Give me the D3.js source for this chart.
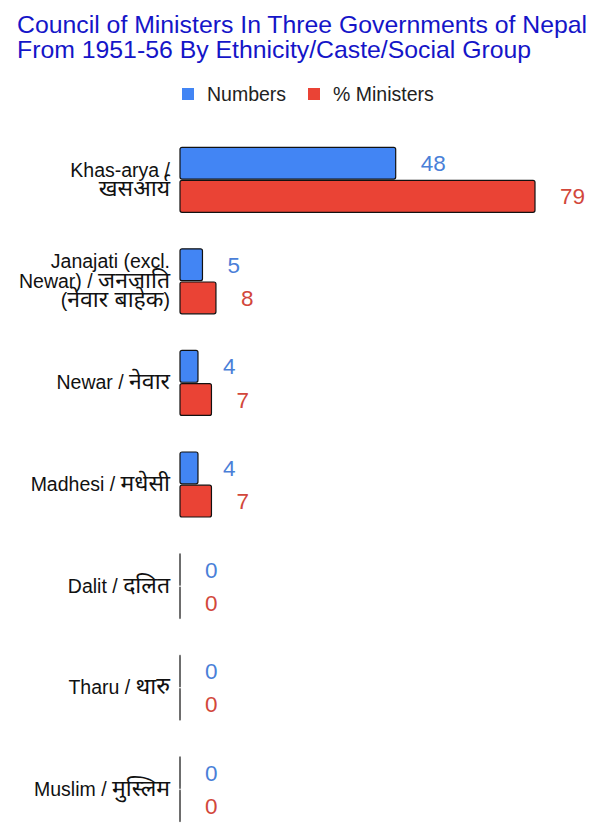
<!DOCTYPE html>
<html><head><meta charset="utf-8">
<script src="https://cdn.jsdelivr.net/npm/d3@7"></script>
<style>
body{margin:0;background:#fff;}
text{font-family:"Liberation Sans",Arial,"Noto Sans","Noto Sans Devanagari",sans-serif;}
</style></head>
<body><svg id="chart" width="607" height="840"></svg>
<script>
const categories = [
  ["Khas-arya /", "खसआर्य"],
  ["Janajati (excl.", "Newar) / जनजाति", "(नेवार बाहेक)"],
  ["Newar / नेवार"],
  ["Madhesi / मधेसी"],
  ["Dalit / दलित"],
  ["Tharu / थारु"],
  ["Muslim / मुस्लिम"]
];
const seriesNames = ["Numbers", "% Ministers"];
const numbers = [48, 5, 4, 4, 0, 0, 0];
const percentMinisters = [79, 8, 7, 7, 0, 0, 0];
const titleLines = ["Council of Ministers In Three Governments of Nepal", "From 1951-56 By Ethnicity/Caste/Social Group"];

const barColors = ["#4285f4", "#ea4335"];
const labelColors = ["#4a7fd8", "#d2473b"];

const svg = d3.select("#chart");

svg.selectAll("text.title").data(titleLines).enter().append("text")
  .attr("class","title").attr("x",17).attr("y",(d,i)=>33+i*25)
  .attr("font-size",24.8).attr("fill","#1515c8").text(d=>d);

// legend
const legend = svg.append("g");
const lx = [182, 308];
seriesNames.forEach((n,i)=>{
  legend.append("rect").attr("x",lx[i]).attr("y",88).attr("width",12).attr("height",12).attr("fill",barColors[i]);
  legend.append("text").attr("x",lx[i]+25).attr("y",101).attr("font-size",19.5).attr("fill","#222").text(n);
});

const idx = d3.range(categories.length);
const x = d3.scaleLinear().domain([0, 79]).range([180, 535]);
const y = d3.scaleBand().domain(idx).range([129, 840]);
const inner = d3.scaleBand().domain([0,1]).range([0, 65]).paddingInner(0.04);

const data = idx.map(i => ({i, vals:[numbers[i], percentMinisters[i]]}));

const g = svg.append("g");
const groups = g.selectAll("g.cat").data(data).enter().append("g")
  .attr("transform", d => `translate(0,${y(d.i) + y.bandwidth()/2 - 32.5})`);

groups.selectAll("rect").data(d => d.vals.map((v,s)=>({v,s}))).enter().append("rect")
  .attr("x", x(0))
  .attr("y", d => inner(d.s))
  .attr("width", d => Math.max(0.01, x(d.v) - x(0)))
  .attr("height", inner.bandwidth())
  .attr("rx", 2)
  .attr("fill", d => barColors[d.s])
  .attr("stroke", "#111").attr("stroke-width", 1.2);

groups.selectAll("text.val").data(d => d.vals.map((v,s)=>({v,s}))).enter().append("text")
  .attr("class","val")
  .attr("x", d => x(d.v) + 25)
  .attr("y", d => inner(d.s) + inner.bandwidth()/2)
  .attr("dy","0.36em")
  .attr("font-size",22.5)
  .attr("fill", d => labelColors[d.s])
  .text(d => d.v);

// category labels: split Latin / Devanagari runs so Devanagari can be a bit larger
const devRe = /([\u0900-\u097F]+(?:\s+[\u0900-\u097F]+)*)/;
idx.forEach(i => {
  const lines = categories[i];
  const cy = y(i) + y.bandwidth()/2;
  const lh = 19.5;
  lines.forEach((ln,k)=>{
    const t = svg.append("text").attr("text-anchor","end").attr("fill","#111")
      .attr("x",170).attr("y", cy + (k - (lines.length-1)/2)*lh + 6.5).attr("font-size",19.5);
    ln.split(devRe).filter(s=>s.length).forEach(part=>{
      const isDev = /[\u0900-\u097F]/.test(part);
      t.append("tspan").attr("font-size", isDev ? 23 : 19.5).text(part);
    });
  });
});
</script></body></html>
